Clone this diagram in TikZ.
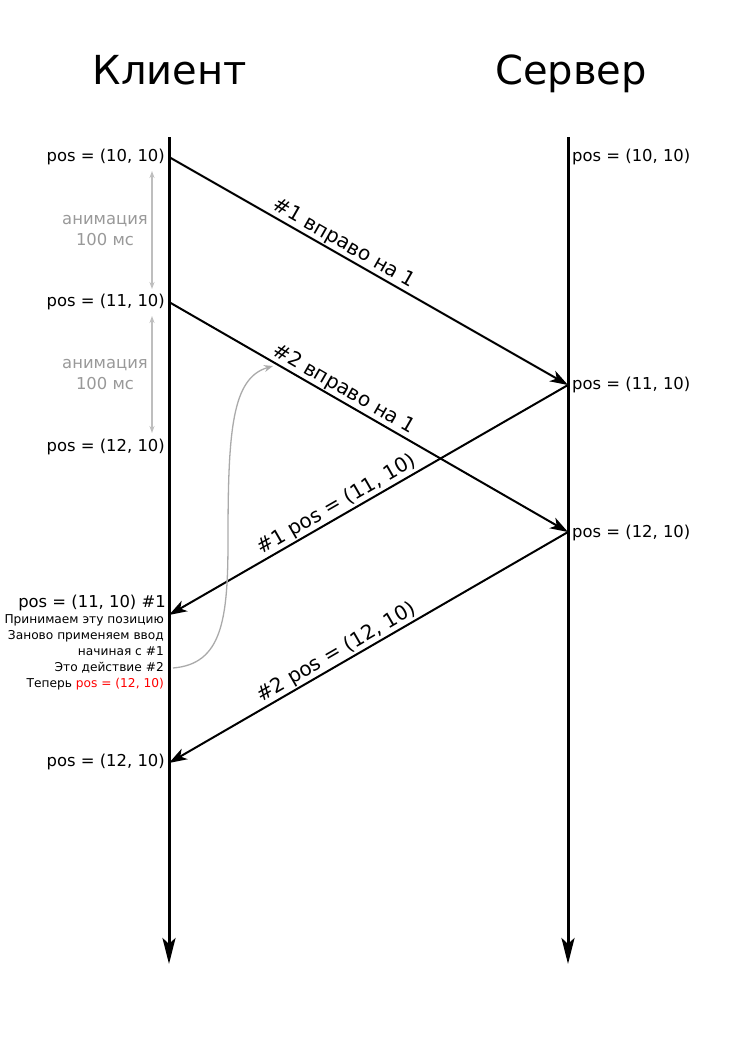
\documentclass[tikz,border=0pt]{standalone}
\usepackage{fontspec}
\setmainfont{DejaVu Sans}
\usetikzlibrary{arrows.meta}
\definecolor{animgrey}{RGB}{153,153,153}
\definecolor{animarrow}{RGB}{190,190,190}
\definecolor{curvegrey}{RGB}{170,170,170}
\definecolor{redtxt}{RGB}{255,0,0}
\tikzset{
  lifeline/.style={line width=3pt,-{Stealth[length=26pt,width=13pt,inset=6pt]}},
  msg/.style={line width=2pt,-{Stealth[length=18pt,width=12pt,inset=5pt]}},
  msglabel/.style={sloped,anchor=south,inner sep=1pt,font=\fontsize{20}{22}\selectfont},
  poslabel/.style={font=\fontsize{16.4}{18}\selectfont,inner sep=0pt},
  title/.style={font=\fontsize{40}{44}\selectfont,inner sep=0pt,anchor=base},
  animtext/.style={font=\fontsize{16.4}{21}\selectfont,text=animgrey,align=center,inner sep=0pt},
  animarr/.style={line width=1.2pt,draw=animarrow,{Stealth[length=7pt,width=5pt]}-{Stealth[length=7pt,width=5pt]}},
  smalltext/.style={font=\fontsize{12.2}{16.2}\selectfont,align=right,inner sep=0pt},
}
\begin{document}
\begin{tikzpicture}[x=1pt,y=-1pt]
\useasboundingbox (0,0) rectangle (744,1052);
% titles
\node[title] (tc) at (170,84) {Клиент};
\node[title] (ts) at (571,84) {Сервер};
% lifeline coordinates
\coordinate (ctop) at (169,137);
\coordinate (cbot) at (169,964);
\coordinate (stop) at (568,137);
\coordinate (sbot) at (568,964);
\coordinate (c1) at (169,157);
\coordinate (c2) at (169,302);
\coordinate (c4) at (169,615);
\coordinate (c5) at (169,763);
\coordinate (s2) at (568,385);
\coordinate (s3) at (568,532);
\draw[lifeline] (ctop) -- (cbot);
\draw[lifeline] (stop) -- (sbot);
% messages
\draw[msg] (c1) -- node[msglabel,pos=0.424] (l1) {\#1 вправо на 1} (s2);
\draw[msg] (c2) -- node[msglabel,pos=0.424] (l2) {\#2 вправо на 1} (s3);
\draw[msg] (s2) -- node[msglabel,pos=0.565] (l3) {\#1 pos = (11, 10)} (c4);
\draw[msg] (s3) -- node[msglabel,pos=0.566] (l4) {\#2 pos = (12, 10)} (c5);
% client labels
\node[poslabel,anchor=east] (p1) at (165,157) {pos = (10, 10)};
\node[poslabel,anchor=east] (p2) at (165,302) {pos = (11, 10)};
\node[poslabel,anchor=east] (p3) at (165,447) {pos = (12, 10)};
\node[poslabel,anchor=east] (p4) at (166,603) {pos = (11, 10) \#1};
\node[poslabel,anchor=east] (p5) at (165,762) {pos = (12, 10)};
% server labels
\node[poslabel,anchor=west] (q1) at (572,157) {pos = (10, 10)};
\node[poslabel,anchor=west] (q2) at (572,385) {pos = (11, 10)};
\node[poslabel,anchor=west] (q3) at (572,533) {pos = (12, 10)};
% animation
\node[animtext] (a1) at (105,231) {анимация\\100 мс};
\node[animtext] (a2) at (105,375) {анимация\\100 мс};
\coordinate (g1t) at (152,171);
\coordinate (g1b) at (152,289);
\coordinate (g2t) at (152,316);
\coordinate (g2b) at (152,433);
\draw[animarr] (g1t) -- (g1b);
\draw[animarr] (g2t) -- (g2b);
% explanation
\node[smalltext,anchor=north east] (ex) at (164,614) {Принимаем эту позицию\\Заново применяем ввод\\начиная с \#1\\Это действие \#2\\Теперь \textcolor{redtxt}{pos = (12, 10)}};
\coordinate (cs) at (173,668);
\coordinate (cm) at (228,540);
\coordinate (ce) at (273,366);
\draw[curvegrey,line width=1.3pt,-{Stealth[length=9pt,width=7pt]}] (cs) .. controls (222,664) and (228,620) .. (cm) .. controls (228,430) and (232,378) .. (ce);
\end{tikzpicture}
\end{document}
